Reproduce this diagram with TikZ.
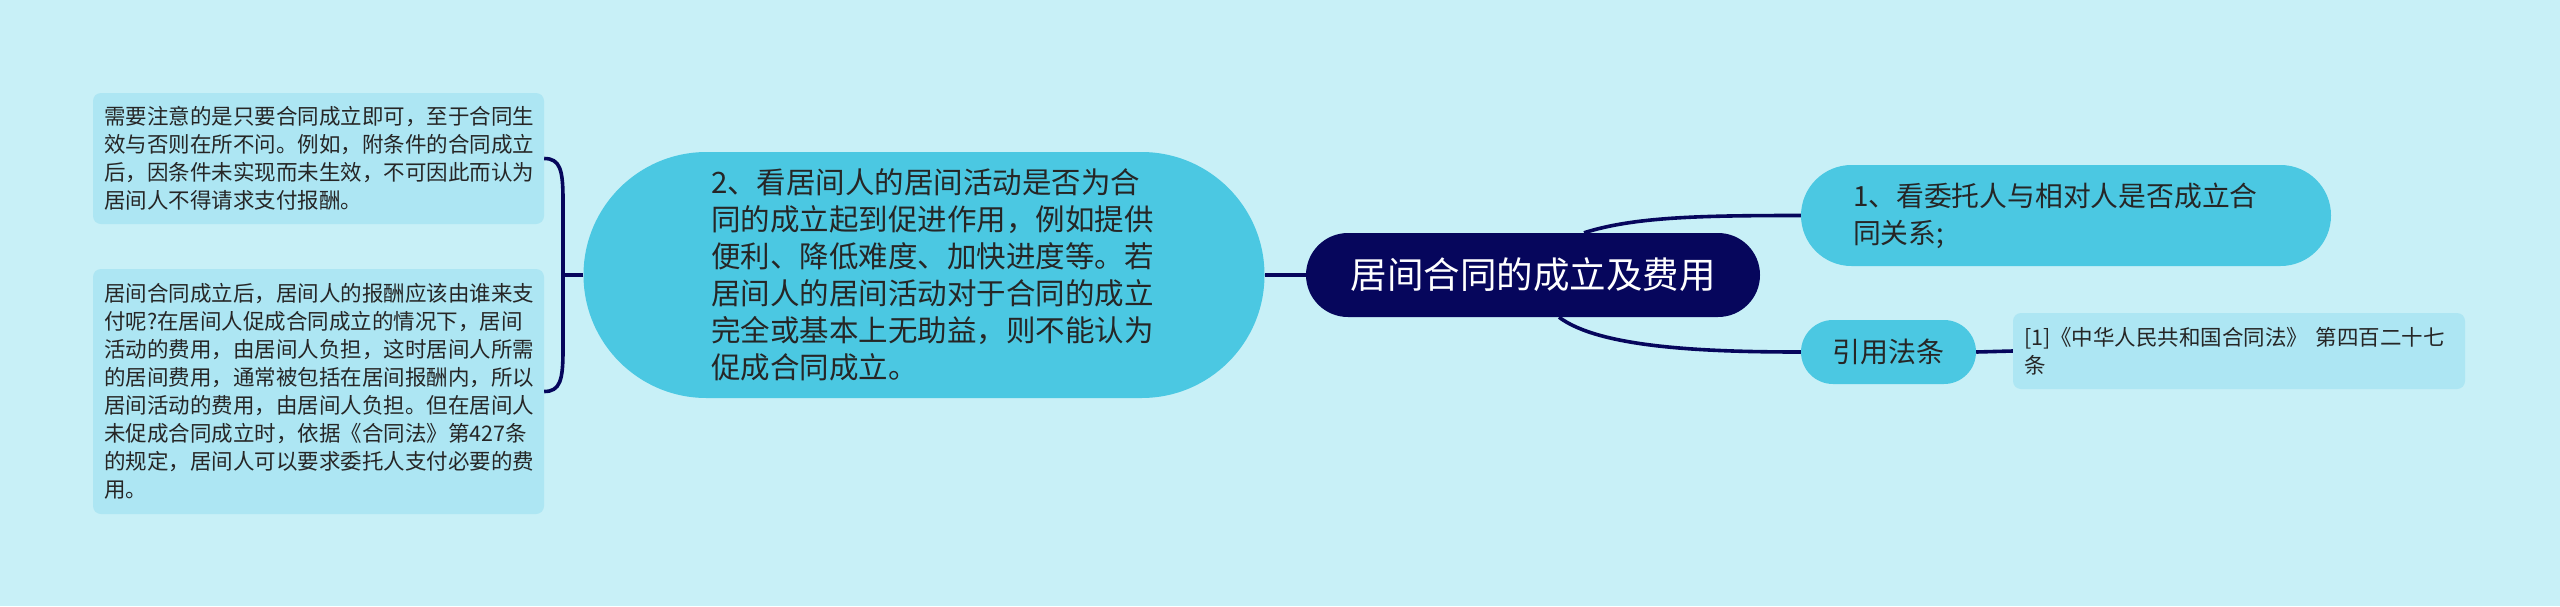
\documentclass[tikz,border=0pt]{standalone}
\usepackage{fontspec}
\usetikzlibrary{shapes.misc}
\newfontfamily\cjk{Noto Sans CJK SC}
\definecolor{bgcol}{HTML}{C8F0F7}
\definecolor{navy}{HTML}{06065C}
\definecolor{topiccol}{HTML}{4BC8E2}
\definecolor{leafcol}{HTML}{ADE6F3}

\begin{document}
\begin{tikzpicture}[x=1pt,y=-1pt,
  root/.style={rounded rectangle,fill=navy,text=white,inner sep=0pt,
    font=\cjk\fontsize{36.5}{44}\selectfont},
  topic/.style={rounded rectangle,fill=topiccol,text=black!85,inner sep=0pt,
    align=left,font=\cjk\fontsize{29.5}{37}\selectfont},
  leaf/.style={rectangle,rounded corners=8pt,fill=leafcol,text=black!85,
    inner xsep=11pt,inner ysep=0pt,align=left,
    font=\cjk\fontsize{21.5}{28}\selectfont},
  link/.style={navy,line width=3.6pt}]
\fill[bgcol] (0,0) rectangle (2560,606);
\useasboundingbox (0,0) rectangle (2560,606);

\node[root,minimum width=454pt,minimum height=84pt] (cen) at (1533,275) {居间合同的成立及费用};

\node[topic,text width=426pt,minimum width=681pt,minimum height=246pt] (kan2) at (924,275)
{2、看居间人的居间活动是否为合\\同的成立起到促进作用，例如提供\\便利、降低难度、加快进度等。若\\居间人的居间活动对于合同的成立\\完全或基本上无助益，则不能认为\\促成合同成立。};
\node[topic,text width=426pt,minimum width=530pt,minimum height=101pt,
  font=\cjk\fontsize{27.8}{37}\selectfont] (kan1) at (2066,215.5)
{1、看委托人与相对人是否成立合\\同关系;};
\node[topic,minimum width=175pt,minimum height=64pt,font=\cjk\fontsize{28}{34}\selectfont] (ref) at (1888.5,352) {引用法条};

\node[leaf,text width=429pt,minimum height=131pt] (leafA) at (318.5,158.5)
{需要注意的是只要合同成立即可，至于合同生\\效与否则在所不问。例如，附条件的合同成立\\后，因条件未实现而未生效，不可因此而认为\\居间人不得请求支付报酬。};
\node[leaf,text width=429pt,minimum height=245pt] (leafB) at (318.5,391.5)
{居间合同成立后，居间人的报酬应该由谁来支\\付呢?在居间人促成合同成立的情况下，居间\\活动的费用，由居间人负担，这时居间人所需\\的居间费用，通常被包括在居间报酬内，所以\\居间活动的费用，由居间人负担。但在居间人\\未促成合同成立时，依据《合同法》第427条\\的规定，居间人可以要求委托人支付必要的费\\用。};
\node[leaf,text width=430pt,minimum height=76pt] (law) at (2239,351)
{[1]《中华人民共和国合同法》 第四百二十七\\条};

% connectors
\coordinate (fork) at (563,275);
\coordinate (forkT) at (563,200);
\coordinate (forkB) at (563,350);
\draw[link] (cen.west) -- (kan2.east);
\draw[link] (kan2.west) -- (fork);
\draw[link] (leafA.east) .. controls +(16,0) and +(0,-30) .. (forkT) -- (forkB)
  .. controls +(0,30) and +(16,0) .. (leafB.east);
\draw[link] ([xshift=51pt]cen.north) .. controls +(50,-16) and +(-100,0) .. (kan1.west);
\draw[link] ([xshift=26pt]cen.south) .. controls +(40,30) and +(-100,0) .. (ref.west);
\draw[link] (ref.east) -- (law.west);
\end{tikzpicture}
\end{document}
